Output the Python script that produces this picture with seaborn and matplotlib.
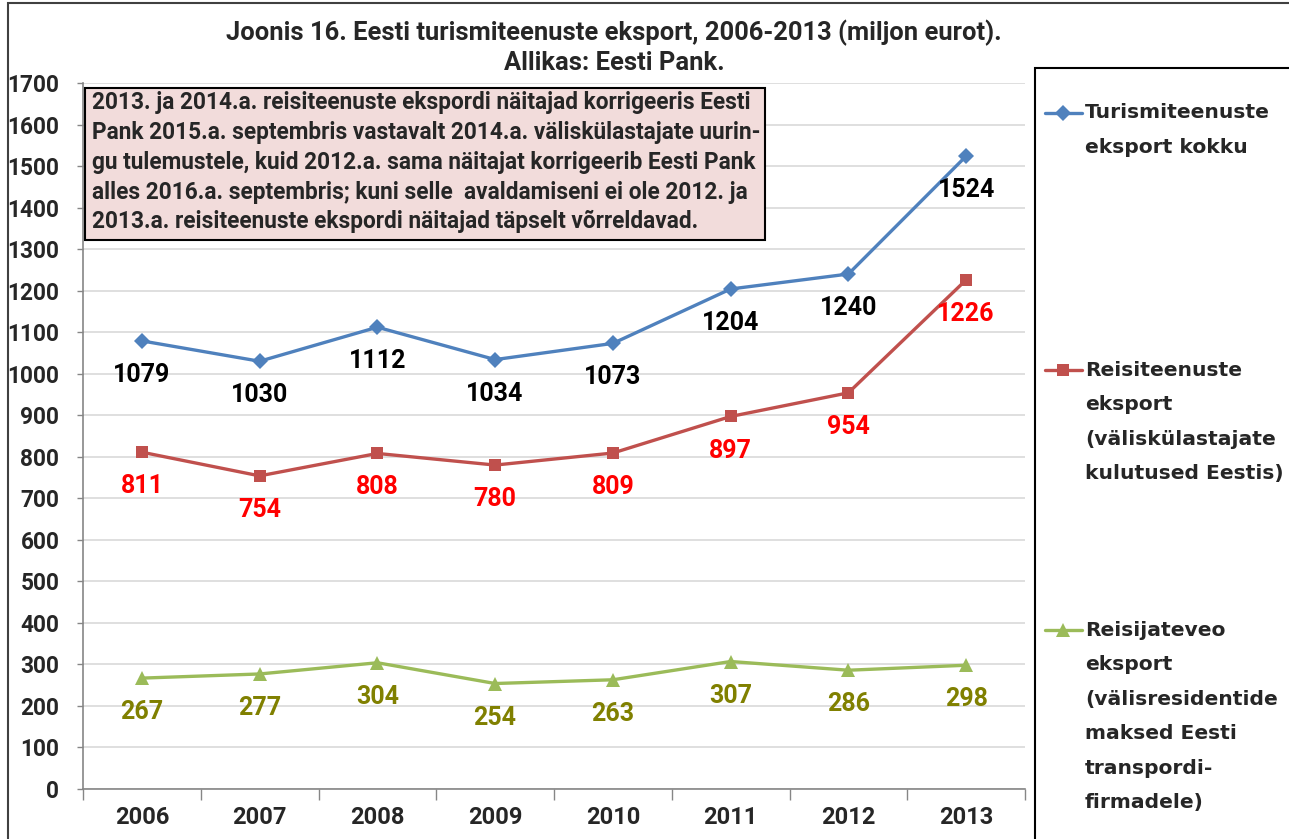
import numpy as np
import matplotlib
matplotlib.use("Agg")
import matplotlib.pyplot as plt
from matplotlib.lines import Line2D
from matplotlib.patches import Rectangle
from matplotlib.ticker import MultipleLocator, FixedLocator
import pandas as pd
import seaborn as sns

# data
years = ["2006", "2007", "2008", "2009", "2010", "2011", "2012", "2013"]
turism_kokku = [1079, 1030, 1112, 1034, 1073, 1204, 1240, 1524]
reisiteenused = [811, 754, 808, 780, 809, 897, 954, 1226]
reisijatevedu = [267, 277, 304, 254, 263, 307, 286, 298]

series_names = ["Turismiteenuste eksport kokku",
                "Reisiteenuste eksport (väliskülastajate kulutused Eestis)",
                "Reisijateveo eksport (välisresidentide maksed Eesti transpordifirmadele)"]
legend_lines = [["Turismiteenuste", "eksport kokku"],
                ["Reisiteenuste", "eksport", "(väliskülastajate", "kulutused Eestis)"],
                ["Reisijateveo", "eksport", "(välisresidentide", "maksed Eesti",
                 "transpordi-", "firmadele)"]]
line_colors = ["#4F81BD", "#C0504D", "#9BBB59"]
label_colors = ["black", "#FF0000", "#808000"]
markers = ["D", "s", "^"]

note_lines = ["2013. ja 2014.a. reisiteenuste ekspordi näitajad korrigeeris Eesti",
              "Pank 2015.a. septembris vastavalt 2014.a. väliskülastajate uurin-",
              "gu tulemustele, kuid 2012.a. sama näitajat korrigeerib Eesti Pank",
              "alles 2016.a. septembris; kuni selle  avaldamiseni ei ole 2012. ja",
              "2013.a. reisiteenuste ekspordi näitajad täpselt võrreldavad."]

all_values = [turism_kokku, reisiteenused, reisijatevedu]
df = pd.concat([pd.DataFrame({"pos": np.arange(len(years)), "year": years,
                              "value": v, "series": n})
                for v, n in zip(all_values, series_names)], ignore_index=True)

W, H = 1289, 839
sns.set_theme(style="white")
plt.rcParams["font.family"] = ["Roboto", "DejaVu Sans"]
plt.rcParams["font.weight"] = "bold"

fig = plt.figure(figsize=(W / 100, H / 100), dpi=100)
ax = fig.add_axes([83 / W, 1 - 789 / H, 942 / W, 706 / H])

def px(x, y):
    return x / W, 1 - y / H

sns.lineplot(data=df, x="pos", y="value", hue="series", style="series",
             hue_order=series_names, style_order=series_names,
             palette=dict(zip(series_names, line_colors)),
             markers=dict(zip(series_names, markers)), dashes=False,
             linewidth=2.4, markersize=8, markeredgewidth=0, ax=ax, legend=False)
for ln, m in zip(ax.lines, markers):
    if m == "^":
        ln.set_markersize(10)

# data labels
for vals, c in zip(all_values, label_colors):
    for i, v in enumerate(vals):
        ax.annotate(str(v), (i, v), xytext=(0, -24.5), textcoords="offset points",
                    ha="center", va="center", fontsize=18, fontweight="bold",
                    color=c)

ax.set_xlim(-0.5, len(years) - 0.5)
ax.set_ylim(0, 1700)
ax.yaxis.set_major_locator(MultipleLocator(100))
ax.set_xticks(np.arange(len(years)))
ax.set_xticklabels(years)
ax.xaxis.set_minor_locator(FixedLocator(np.arange(len(years) + 1) - 0.5))
ax.tick_params(axis="x", which="major", length=0, pad=12, labelsize=17)
ax.tick_params(axis="x", which="minor", length=8, width=1, color="#868686",
               direction="out", bottom=True)
ax.tick_params(axis="y", length=4, width=1, color="#868686", direction="out",
               left=True, pad=13, labelsize=16.3)
for lab in ax.get_xticklabels() + ax.get_yticklabels():
    lab.set_fontweight("bold")
ax.set_xlabel("")
ax.set_ylabel("")
ax.grid(axis="y", color="#D9D9D9", linewidth=1.2)
ax.set_axisbelow(True)
for s in ["top", "right"]:
    ax.spines[s].set_visible(False)
for s in ["left", "bottom"]:
    ax.spines[s].set_color("#868686")
    ax.spines[s].set_linewidth(1.2)

# title
fig.text(*px(614, 33), "Joonis 16. Eesti turismiteenuste eksport, 2006-2013 (miljon eurot).",
         ha="center", va="center", fontsize=18.4, fontweight="bold")
fig.text(*px(614, 63), "Allikas: Eesti Pank.", ha="center", va="center",
         fontsize=18.4, fontweight="bold")

# note box
x0, y0 = px(85, 240)
x1, y1 = px(765, 88)
fig.add_artist(Rectangle((x0, y0), x1 - x0, y1 - y0, transform=fig.transFigure,
                         facecolor="#F2DCDB", edgecolor="black", linewidth=1.5,
                         zorder=5))
for k, line in enumerate(note_lines):
    fig.text(*px(92, 103 + k * 29.7), line, ha="left", va="center",
             fontsize=16.3, fontweight="bold", zorder=6)

# figure border and legend box
bx0, by0 = px(8, 845)
bx1, by1 = px(1295, 3)
fig.add_artist(Rectangle((bx0, by0), bx1 - bx0, by1 - by0, transform=fig.transFigure,
                         facecolor="none", edgecolor="#404040", linewidth=1.5))
lx0, ly0 = px(1035, 845)
lx1, ly1 = px(1295, 68)
fig.add_artist(Rectangle((lx0, ly0), lx1 - lx0, ly1 - ly0, transform=fig.transFigure,
                         facecolor="white", edgecolor="black", linewidth=1.5))

legend_y = [113, 370, 630]
for lines, c, m, yy in zip(legend_lines, line_colors, markers, legend_y):
    xa, ya = px(1045, yy)
    xb, _ = px(1082, yy)
    xm, _ = px(1063, yy)
    fig.add_artist(Line2D([xa, xb], [ya, ya], transform=fig.transFigure,
                          color=c, linewidth=2.4))
    fig.add_artist(Line2D([xm], [ya], transform=fig.transFigure, color=c,
                          marker=m, markersize=10 if m == "^" else 8,
                          markeredgewidth=0))
    for k, line in enumerate(lines):
        fig.text(*px(1085, yy + k * 34.5), line, ha="left", va="center",
                 fontsize=14.6, fontweight="bold", family="DejaVu Sans")

fig.savefig("out.png", dpi=100)
